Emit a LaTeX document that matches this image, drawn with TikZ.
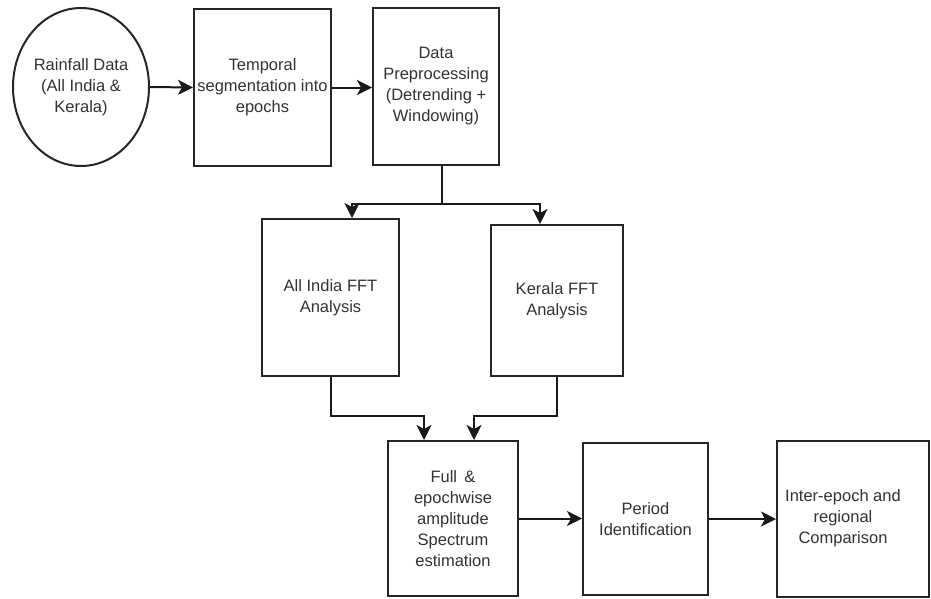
\documentclass[tikz,border=0pt]{standalone}
\usepackage{fontspec}
\setmainfont{Liberation Sans}
\usetikzlibrary{arrows.meta,shapes.geometric,calc}
\begin{document}
\begin{tikzpicture}[x=1pt,y=-1pt,
  txt/.style={align=center,font=\fontsize{16.5}{21}\selectfont,text=black!80},
  box/.style={txt,draw=black!85,line width=2pt,fill=white,rectangle,inner sep=0pt},
  conn/.style={line width=2pt,draw=black!90,-{Stealth[length=15pt,width=15pt,inset=4pt]}},
  plain/.style={line width=2pt,draw=black!90}]
\useasboundingbox (0,0) rectangle (931,598);
\node[box,ellipse,minimum width=136pt,minimum height=158pt] (ell) at (81,87) {Rainfall Data\\(All India \&\\Kerala)};
\node[box,minimum width=137pt,minimum height=157pt] (box1) at (262.5,87.5) {Temporal\\segmentation into\\epochs};
\node[box,minimum width=126pt,minimum height=157pt] (box2) at (436,86.5) {Data\\Preprocessing\\(Detrending +\\Windowing)};
\node[box,minimum width=137pt,minimum height=157pt] (ai) at (330.5,297.5) {All India FFT\\Analysis};
\node[box,minimum width=132pt,minimum height=151pt] (ker) at (557,300.5) {Kerala FFT\\Analysis};
\node[box,minimum width=130pt,minimum height=155pt] (box3) at (453,518.5) {Full \,\&\\epochwise\\amplitude\\Spectrum\\estimation};
\node[box,minimum width=125pt,minimum height=152pt] (box4) at (645.5,519) {Period\\Identification};
\node[box,minimum width=152pt,minimum height=156pt] (box5) at (853,519) {};
\node[txt] (box5txt) at (843,518) {Inter-epoch and\\regional\\Comparison};
\draw[conn] (ell.east) -- (box1.west);
\draw[conn] (box1.east) -- (box1.east -| box2.west);
\coordinate (split) at (442,204);
\draw[plain] (box2.south -| split) -- (split);
\draw[conn] (split) -| ($(ai.north)+(21.5,0)$);
\draw[conn] (split) -| ($(ker.north)+(-17,0)$);
\draw[conn] (ai.south) -- ++(0,39) -| ($(box3.north)+(-29,0)$);
\draw[conn] (ker.south) -- ++(0,39) -| ($(box3.north)+(21,0)$);
\draw[conn] (box3.east) -- (box3.east -| box4.west);
\draw[conn] (box4.east) -- (box4.east -| box5.west);
\end{tikzpicture}
\end{document}
